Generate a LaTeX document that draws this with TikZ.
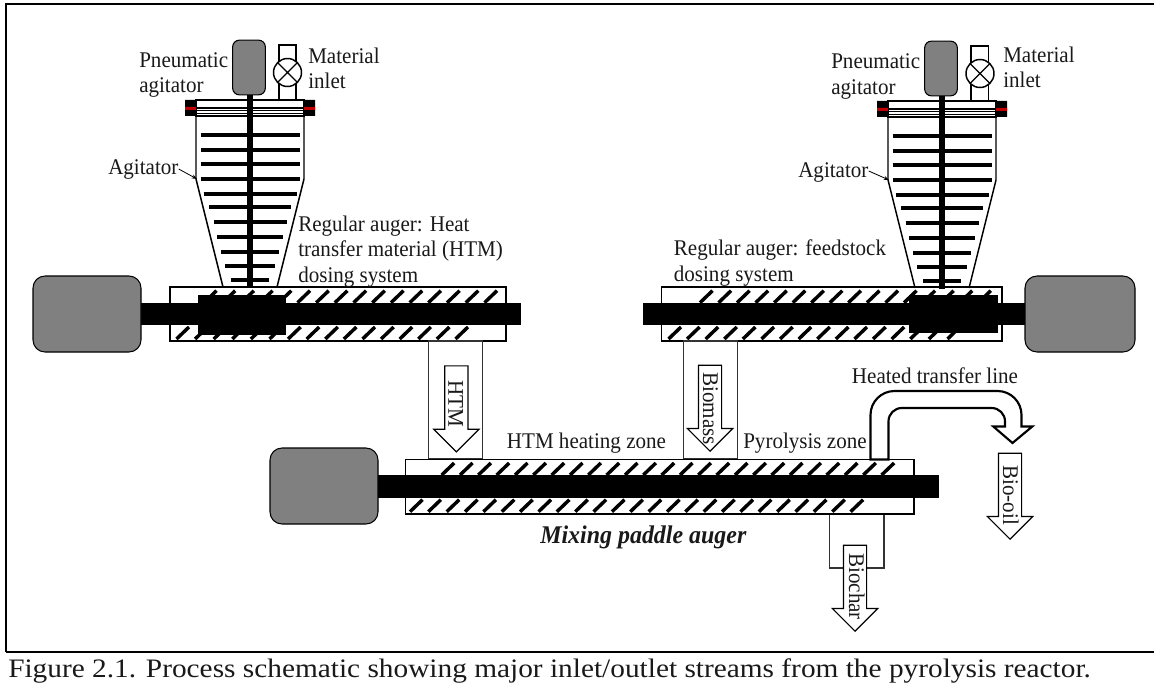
\documentclass[tikz,border=0pt]{standalone}
\usepackage{fontspec}
\setmainfont[FakeStretch=0.94]{Liberation Serif}
\newfontfamily\capfont[FakeStretch=1.1]{Liberation Serif}
\usepackage{tikz}
\usetikzlibrary{arrows.meta,positioning,shapes.arrows,calc}
\usepackage{xcolor}
\definecolor{motorgray}{HTML}{808080}
\definecolor{sealred}{HTML}{C00000}
% one auger's slanted flights, top row and bottom row
\newcommand{\flights}[7]{
  \foreach \i in {0,...,#1} {
    \draw[flight] ({#2+\i*#3},#4) -- ++(12.5,-12);
    \draw[flight] ({#5+\i*#6},#7) -- ++(12.5,-12);
  }
}
% hopper with its agitator and lid, drawn around the shaft axis
\newcommand{\hopper}[2]{
  \begin{scope}[shift={(#1,#2)}]
    \fill[white] (-54,0) rectangle (54,64);
    \draw[wall] (-54,16) -- (-54,79) -- (-27,187) (54,16) -- (54,79) -- (27,187);
    \draw[wall] (-54,0) rectangle (54,16);
    \draw[thin] (-54,7) -- (54,7) (-54,10) -- (54,10) (-54,13) -- (54,13);
    \fill[black] (-65,0) rectangle (-54,16) (54,0) rectangle (65,16);
    \fill[sealred] (-65,7) rectangle (-54,10) (54,7) rectangle (65,10);
    \draw[sealred, thin] (-54,8) -- (54,8);
    \draw[rod] (0,-5) -- (0,188);
    \foreach \yy/\hw in {35/49.5,50/49.5,64/49.5,79/49.5,94/46.5,107/41,122/36.5,137/33,152/29,166/25,180/19}
      \draw[blade] (-\hw,\yy) -- (\hw,\yy);
  \end{scope}
}
\begin{document}
\begin{tikzpicture}[
    x=0.75pt, y=-0.75pt,
    >=Stealth,
    motor/.style={rectangle, draw=black, thick, fill=motorgray, rounded corners=9pt, inner sep=0pt},
    wall/.style={draw=black, line width=1.1pt},
    thin/.style={draw=black, line width=0.6pt},
    duct/.style={draw=black!80, line width=1pt, fill=white},
    rod/.style={line width=4pt, black},
    blade/.style={line width=2.6pt, black},
    flight/.style={line width=2.6pt, black},
    streamarrow/.style={single arrow, draw=black, line width=0.9pt, fill=white, rotate=-90, anchor=tip,
      minimum width=33pt, minimum height=64.5pt, inner xsep=0pt, inner ysep=8.25pt,
      single arrow head extend=8.25pt, single arrow head indent=0pt},
    lbl/.style={font=\fontsize{16.8}{19.1}\selectfont, inner sep=0pt, anchor=base west, align=left, text=black!90},
    side/.style={lbl, rotate=-90}
  ]
  \useasboundingbox (0,0) rectangle (1154,685);
  \draw[line width=1.5pt] (1154,4) -- (6,4) -- (6,652);
  \draw[line width=1.6pt] (6,652) -- (1154,652);

  % left regular auger
  \draw[wall] (170,287) rectangle (506,341);
  \flights{15}{176.5}{18.6}{339}{204}{18.7}{302.7}
  \fill[black] (141,303) rectangle (521,325);
  \fill[black] (198,295) rectangle (286,335);
  \node[motor, minimum width=81pt, minimum height=57pt] (motorL) at (87,314) {};
  \hopper{250}{100}

  % right regular auger
  \draw[wall] (661.5,287) rectangle (1002,341);
  \flights{15}{668.5}{18.6}{339}{700}{18.55}{302.7}
  \fill[black] (642.5,303) rectangle (1025,325);
  \fill[black] (909,295) rectangle (998,333);
  \node[motor, minimum width=82.5pt, minimum height=57pt] (motorR) at (1080,314) {};
  \hopper{942}{101}

  % pneumatic agitators and inlet valves
  \node[motor, rounded corners=5pt, minimum width=24.5pt, minimum height=41pt] (airL) at (249,67.5) {};
  \node[motor, rounded corners=5pt, minimum width=24.5pt, minimum height=41pt] (airR) at (941,68.5) {};
  \draw[wall] (279,45) rectangle (296,62) (279,84) rectangle (296,100);
  \node[draw=black, line width=1.1pt, circle, minimum size=21pt, inner sep=0pt, fill=white, path picture={
      \draw[line width=1pt] (path picture bounding box.south west) ++(3pt,3pt) -- ++(15pt,15pt)
        (path picture bounding box.north west) ++(3pt,-3pt) -- ++(15pt,-15pt);}] (valveL) at (287.5,72.5) {};
  \draw[wall] (971,46) rectangle (988.5,63) (971,85) rectangle (988.5,101);
  \node[draw=black, line width=1.1pt, circle, minimum size=21pt, inner sep=0pt, fill=white, path picture={
      \draw[line width=1pt] (path picture bounding box.south west) ++(3pt,3pt) -- ++(15pt,15pt)
        (path picture bounding box.north west) ++(3pt,-3pt) -- ++(15pt,-15pt);}] (valveR) at (980,73.5) {};

  % mixing paddle auger with its chutes
  \draw[duct] (428.3,341) rectangle (482.7,459);
  \draw[duct] (683.3,341) rectangle (737.7,459);
  \draw[duct] (829.7,514) rectangle (884,568);
  \draw[wall] (405.7,459.3) rectangle (914,514);
  \flights{24}{410}{18.36}{511.7}{441.7}{18.33}{475}
  \fill[black] (378,475) rectangle (939,498);
  \node[motor, minimum width=81pt, minimum height=57pt] (motorM) at (324,486) {};

  % heated transfer line
  \draw[line width=1.6pt, fill=white, line join=miter]
    (870.5,459.5) [rounded corners=18pt] -- (870.5,391) -- (1021.5,391) [sharp corners] -- (1021.5,426.5)
    -- (1032.3,426.5) -- (1012.5,443) -- (993.3,426.5) -- (1005,426.5)
    [rounded corners=10pt] -- (1005,408) -- (888.5,408) [sharp corners] -- (888.5,459.5) -- cycle;

  % product streams
  \node[streamarrow] (htmArrow) at (456.3,452.7) {};
  \node[streamarrow] (biomassArrow) at (710,452) {};
  \node[streamarrow] (biocharArrow) at (855,632) {};
  \node[streamarrow] (biooilArrow) at (1010,540) {};
  \node[side] (htmText) at (448.3,380) {HTM};
  \node[side] (biomassText) at (703,372) {Biomass};
  \node[side] (biocharText) at (849,553) {Biochar};
  \node[side] (biooilText) at (1003,465) {Bio-oil};

  % labels
  \node[lbl] (pneuL) at (139,93) {Pneumatic\\agitator};
  \node[lbl] (inletL) at (308,89) {Material\\inlet};
  \node[lbl] (pneuR) at (831,94) {Pneumatic\\agitator};
  \node[lbl] (inletR) at (1003,88) {Material\\inlet};
  \node[lbl] (agitL) at (108,175) {Agitator};
  \node[lbl] (agitR) at (798,177) {Agitator};
  \coordinate (agitLend) at (197,179);
  \coordinate (agitRend) at (889,180);
  \draw[->, >={Stealth[length=4pt,width=3pt]}, line width=0.6pt] (agitL.east) ++(0,-1) -- (agitLend);
  \draw[->, >={Stealth[length=4pt,width=3pt]}, line width=0.6pt] (agitR.east) ++(0,-1) -- (agitRend);
  \node[lbl] (augerL) at (298,282) {Regular auger: Heat\\transfer material (HTM)\\dosing system};
  \node[lbl] (augerR) at (673.6,281) {Regular auger: feedstock\\dosing system};
  \node[lbl] (zoneHeat) at (506.7,448) {HTM heating zone};
  \node[lbl] (zonePyro) at (743,448) {Pyrolysis zone};
  \node[lbl] (lineText) at (851.7,383) {Heated transfer line};
  \node[lbl, font=\fontsize{19.1}{22}\selectfont\bfseries\itshape] (mixText) at (540,543) {Mixing paddle auger};
  \node[lbl, font=\capfont\fontsize{20}{22}\selectfont] (caption) at (8,677) {Figure 2.1. Process schematic showing major inlet/outlet streams from the pyrolysis reactor.};
\end{tikzpicture}
\end{document}
